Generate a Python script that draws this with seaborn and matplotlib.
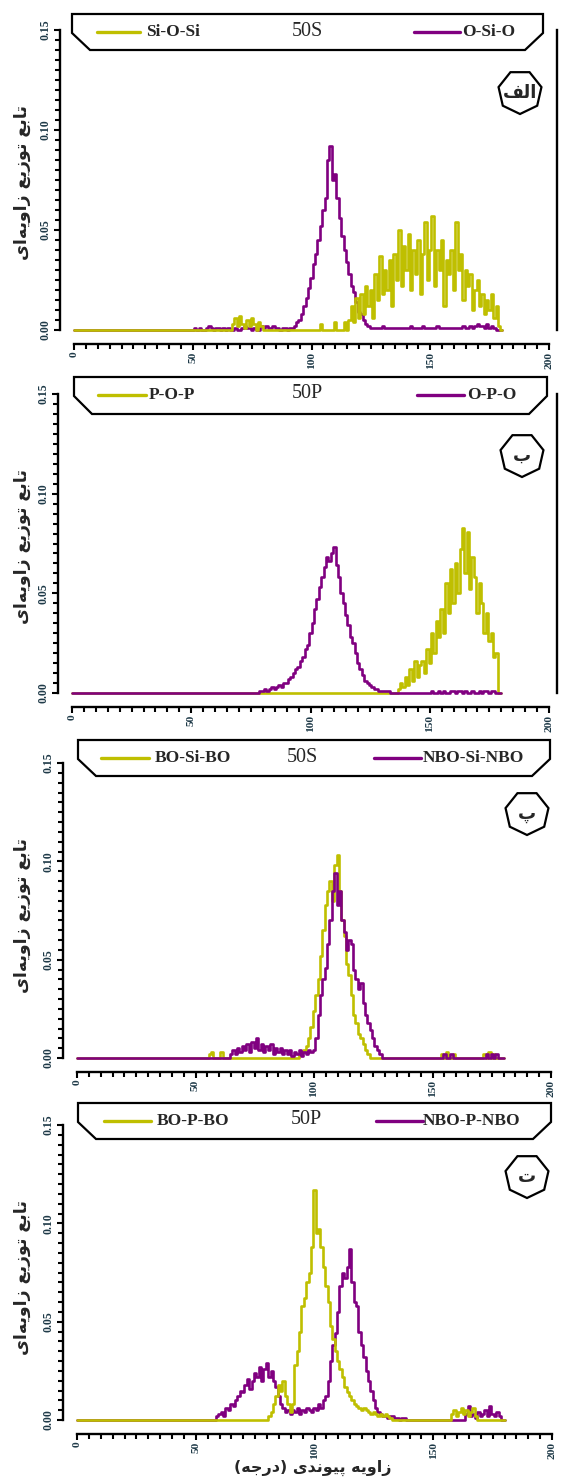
import numpy as np
import pandas as pd
import seaborn as sns
import matplotlib
matplotlib.use("Agg")
import matplotlib.pyplot as plt
from matplotlib.patches import Polygon, RegularPolygon
from matplotlib.lines import Line2D
from matplotlib.transforms import Affine2D
from matplotlib.ticker import MultipleLocator, FormatStrFormatter

# ---------------- data ----------------
angles = np.arange(0, 181)  # bond angle grid, degrees

# panel a (50S)
si_o_si_start = 66
si_o_si = [0.000, 0.003, 0.006, 0.002, 0.007, 0.003, 0.001, 0.005, 0.002, 0.006,
           0.003, 0.000, 0.004, 0.002, 0.000,
           0, 0, 0, 0, 0, 0, 0, 0, 0, 0,
           0, 0, 0, 0, 0, 0, 0, 0, 0, 0,
           0, 0, 0, 0.003, 0, 0, 0, 0, 0, 0.004,
           0, 0, 0, 0.004, 0, 0.005, 0.012, 0.004, 0.016, 0.006,
           0.018, 0.008, 0.022, 0.012, 0.020, 0.006, 0.028, 0.015, 0.037, 0.018,
           0.030, 0.020, 0.035, 0.012, 0.038, 0.025, 0.050, 0.022, 0.042, 0.030,
           0.048, 0.020, 0.040, 0.028, 0.045, 0.018, 0.038, 0.054, 0.025, 0.040,
           0.057, 0.022, 0.040, 0.030, 0.045, 0.012, 0.035, 0.028, 0.040, 0.020,
           0.054, 0.030, 0.038, 0.015, 0.030, 0.022, 0.028, 0.010, 0.020, 0.025,
           0.012, 0.018, 0.008, 0.015, 0.010, 0.018, 0.006, 0.012, 0.002, 0.000]
o_si_o_start = 50
o_si_o = [0.000, 0.001, 0.000, 0.001, 0.000, 0.000, 0.001, 0.002, 0.001, 0.000,
          0.001, 0.001, 0.000, 0.001, 0.000, 0.001, 0.000, 0.000, 0.001, 0.000,
          0.000, 0.001, 0.002, 0.001, 0.001, 0.000, 0.001, 0.000, 0.000, 0.002,
          0.001, 0.002, 0.001, 0.001, 0.002, 0.001, 0.001, 0.000, 0.001, 0.001,
          0.000, 0.001, 0.001, 0.002, 0.004, 0.005, 0.008, 0.012, 0.016, 0.021,
          0.026, 0.033, 0.038, 0.045, 0.052, 0.060, 0.066, 0.085, 0.092, 0.075,
          0.078, 0.066, 0.056, 0.047, 0.040, 0.034, 0.028, 0.022, 0.019, 0.014,
          0.009, 0.008, 0.005, 0.003, 0.002, 0.001, 0.001, 0.001, 0.001, 0.001,
          0.002, 0.001, 0.001, 0.001, 0.001, 0.001, 0.001, 0.001, 0.001, 0.001,
          0.001, 0.001, 0.002, 0.001, 0.001, 0.001, 0.001, 0.002, 0.001, 0.001,
          0.001, 0.001, 0.001, 0.002, 0.001, 0.001, 0.001, 0.001, 0.001, 0.001,
          0.001, 0.001, 0.001, 0.001, 0.002, 0.001, 0.001, 0.002, 0.001, 0.002,
          0.003, 0.002, 0.002, 0.001, 0.003, 0.001, 0.002, 0.001, 0.000, 0.000]

# panel b (50P)
p_o_p_start = 136
p_o_p = [0.000, 0.002, 0.005, 0.003,
         0.008, 0.004, 0.012, 0.006, 0.016, 0.008, 0.014, 0.016, 0.010, 0.022,
         0.015, 0.030, 0.020, 0.036, 0.028, 0.042, 0.030, 0.055, 0.040, 0.062,
         0.045, 0.065, 0.050, 0.072, 0.083, 0.060, 0.081, 0.052, 0.068, 0.058,
         0.040, 0.055, 0.045, 0.030, 0.040, 0.026, 0.030, 0.018, 0.020, 0.000]
o_p_o_start = 78
o_p_o = [0.000, 0.001, 0.001, 0.002, 0.001, 0.002, 0.003, 0.002, 0.003, 0.004, 0.003, 0.005,
         0.005, 0.007, 0.008, 0.010, 0.012, 0.013, 0.016, 0.018, 0.022, 0.024,
         0.030, 0.035, 0.042, 0.047, 0.053, 0.058, 0.063, 0.068, 0.066, 0.070,
         0.073, 0.064, 0.058, 0.050, 0.045, 0.039, 0.034, 0.028, 0.025, 0.020,
         0.015, 0.012, 0.009, 0.006, 0.005, 0.004, 0.003, 0.002, 0.002, 0.001,
         0.001, 0.001, 0.001, 0.001, 0.000, 0.000, 0.000, 0.000, 0.000, 0.000,
         0.000, 0.000, 0.000, 0.000, 0.000, 0.000, 0.000, 0.000, 0.000, 0.000,
         0.000, 0.001, 0.000, 0.000, 0.001, 0.000, 0.001, 0.000, 0.000, 0.001,
         0.001, 0.000, 0.001, 0.001, 0.000, 0.001, 0.000, 0.000, 0.001, 0.000,
         0.000, 0.001, 0.000, 0.001, 0.001, 0.000, 0.001, 0.001, 0.000, 0.000]

# panel c (50S)
bo_si_bo_start = 55
bo_si_bo = [0.000, 0.002, 0.003, 0.000, 0.000,
            0.000, 0.003, 0.000, 0.000, 0.000, 0.000, 0.000, 0.000, 0.000, 0.000,
            0, 0, 0, 0, 0, 0, 0, 0, 0, 0,
            0, 0, 0, 0, 0, 0, 0, 0, 0, 0,
            0.000, 0.000, 0.000, 0.000, 0.002, 0.003, 0.004, 0.006, 0.010, 0.016,
            0.024, 0.032, 0.040, 0.052, 0.065, 0.078, 0.085, 0.090, 0.080, 0.098,
            0.103, 0.085, 0.070, 0.062, 0.048, 0.042, 0.032, 0.022, 0.018, 0.012,
            0.010, 0.007, 0.004, 0.002, 0.000, 0, 0, 0, 0, 0,
            0, 0, 0, 0, 0, 0, 0, 0, 0, 0,
            0, 0, 0, 0, 0, 0, 0, 0, 0, 0,
            0, 0, 0, 0, 0.002, 0, 0.003, 0, 0, 0.002,
            0, 0, 0, 0, 0, 0, 0, 0, 0, 0,
            0, 0, 0.002, 0, 0.003, 0, 0.002, 0, 0, 0]
nbo_si_nbo_start = 64
nbo_si_nbo = [0.000, 0.002, 0.004, 0.002, 0.005, 0.003,
              0.006, 0.004, 0.007, 0.003, 0.008, 0.005, 0.010, 0.004, 0.007, 0.003,
              0.006, 0.004, 0.007, 0.002, 0.005, 0.003, 0.005, 0.002, 0.004, 0.002,
              0.004, 0.001, 0.003, 0.002, 0.004, 0.001, 0.003, 0.002, 0.004, 0.003,
              0.004, 0.010, 0.022, 0.032, 0.040, 0.046, 0.058, 0.070, 0.085, 0.094,
              0.078, 0.085, 0.070, 0.064, 0.055, 0.060, 0.058, 0.045, 0.040, 0.035,
              0.038, 0.028, 0.022, 0.018, 0.014, 0.010, 0.006, 0.004, 0.002, 0.000,
              0, 0, 0, 0, 0, 0, 0, 0, 0, 0,
              0, 0, 0, 0, 0, 0, 0, 0, 0, 0,
              0, 0, 0, 0, 0, 0.002, 0, 0, 0.002, 0,
              0, 0, 0, 0, 0, 0, 0, 0, 0, 0,
              0, 0, 0, 0.002, 0, 0.002, 0, 0.002, 0, 0]

# panel d (50P)
bo_p_bo_start = 80
bo_p_bo = [0.000, 0.002, 0.004, 0.008, 0.012, 0.018, 0.015, 0.020, 0.012, 0.008,
           0.004, 0.008, 0.028, 0.035, 0.045, 0.058, 0.062, 0.070, 0.075, 0.088,
           0.117, 0.095, 0.097, 0.088, 0.078, 0.068, 0.060, 0.048, 0.041, 0.035,
           0.030, 0.026, 0.022, 0.017, 0.014, 0.012, 0.010, 0.008, 0.007, 0.006,
           0.005, 0.006, 0.005, 0.004, 0.003, 0.004, 0.003, 0.002, 0.003, 0.002,
           0.003, 0.002, 0.001, 0.000, 0, 0, 0, 0, 0, 0,
           0, 0, 0, 0, 0, 0, 0, 0, 0, 0,
           0, 0, 0, 0, 0, 0, 0, 0, 0.003, 0.005,
           0.002, 0.004, 0.006, 0.003, 0.005, 0.002, 0.004, 0.006, 0.002, 0.000]
nbo_p_nbo_start = 58
nbo_p_nbo = [0.000, 0.002,
             0.003, 0.004, 0.002, 0.006, 0.005, 0.008, 0.007, 0.010, 0.012, 0.015,
             0.014, 0.018, 0.021, 0.016, 0.020, 0.024, 0.022, 0.027, 0.020, 0.026,
             0.029, 0.022, 0.025, 0.020, 0.017, 0.012, 0.008, 0.006, 0.004, 0.005,
             0.003, 0.005, 0.004, 0.006, 0.003, 0.005, 0.004, 0.006, 0.005, 0.004,
             0.006, 0.005, 0.008, 0.006, 0.010, 0.012, 0.020, 0.030, 0.038, 0.044,
             0.055, 0.068, 0.075, 0.072, 0.078, 0.087, 0.070, 0.060, 0.058, 0.045,
             0.038, 0.032, 0.025, 0.020, 0.015, 0.010, 0.006, 0.004, 0.003, 0.002,
             0.002, 0.001, 0.002, 0.002, 0.001, 0.001, 0.000, 0.001, 0.001, 0.000,
             0, 0, 0, 0, 0, 0, 0, 0, 0, 0,
             0, 0, 0, 0, 0, 0, 0, 0, 0, 0,
             0, 0, 0, 0, 0.003, 0.007, 0.002, 0.003, 0.001, 0.004,
             0.002, 0.003, 0.005, 0.002, 0.007, 0.003, 0.002, 0.004, 0.002, 0.000]

x_ticks = [0, 50, 100, 150, 200]
y_ticks = [0.00, 0.05, 0.10, 0.15]
ylabel_text = "تابع توزیع زاویه‌ای"
xlabel_text = "زاویه پیوندی (درجه)"

YELLOW = "#BFBF00"
PURPLE = "#800080"
TICKC = "#1f3a48"

# ---------------- simple Persian shaping (matplotlib has no complex text layout) ----
FORMS = {
    'ا': ('\uFE8D', '\uFE8E', None, None),
    'ب': ('\uFE8F', '\uFE90', '\uFE91', '\uFE92'),
    'پ': ('\uFB56', '\uFB57', '\uFB58', '\uFB59'),
    'ت': ('\uFE95', '\uFE96', '\uFE97', '\uFE98'),
    'ج': ('\uFE9D', '\uFE9E', '\uFE9F', '\uFEA0'),
    'د': ('\uFEA9', '\uFEAA', None, None),
    'ر': ('\uFEAD', '\uFEAE', None, None),
    'ز': ('\uFEAF', '\uFEB0', None, None),
    'ع': ('\uFEC9', '\uFECA', '\uFECB', '\uFECC'),
    'ف': ('\uFED1', '\uFED2', '\uFED3', '\uFED4'),
    'ل': ('\uFEDD', '\uFEDE', '\uFEDF', '\uFEE0'),
    'ن': ('\uFEE5', '\uFEE6', '\uFEE7', '\uFEE8'),
    'ه': ('\uFEE9', '\uFEEA', '\uFEEB', '\uFEEC'),
    'و': ('\uFEED', '\uFEEE', None, None),
    'ی': ('\uFBFC', '\uFBFD', '\uFBFE', '\uFBFF'),
}


def shape(text):
    out = []
    n = len(text)
    for i, ch in enumerate(text):
        if ch == '\u200c':
            continue
        if ch not in FORMS:
            out.append(ch)
            continue
        prev = text[i - 1] if i > 0 else ''
        nxt = text[i + 1] if i + 1 < n else ''
        jp = prev in FORMS and FORMS[prev][2] is not None
        jn = FORMS[ch][2] is not None and nxt in FORMS
        isol, fina, init, medi = FORMS[ch]
        out.append(medi if (jp and jn) else fina if jp else init if jn else isol)
    mirror = {'(': ')', ')': '('}
    return ''.join(mirror.get(c, c) for c in reversed(out))


def full(start, vals):
    y = np.zeros(len(angles))
    y[start:start + len(vals)] = vals
    return y


# ---------------- figure ----------------
W, H = 561, 1477
sns.set_theme(style="ticks")
plt.rcParams['font.family'] = ['Liberation Serif', 'DejaVu Sans']

fig = plt.figure(figsize=(W / 100, H / 100), dpi=100)
PX = Affine2D().scale(1, -1).translate(0, H).scale(1 / W, 1 / H) + fig.transFigure
FA = ['DejaVu Sans']

panels = [
    dict(geom=(74, 549, 30, 330), title="50S", badge="الف", right=True,
         series=[("O-Si-O", o_si_o_start, o_si_o, PURPLE), ("Si-O-Si", si_o_si_start, si_o_si, YELLOW)],
         leg=("Si-O-Si", "O-Si-O"), box=(72, 543, 14, 50), lx=(97, 140, 146, 307, 414, 460, 462),
         bc=(520, 92)),
    dict(geom=(72, 549, 394, 693), title="50P", badge="ب", right=True,
         series=[("P-O-P", p_o_p_start, p_o_p, YELLOW), ("O-P-O", o_p_o_start, o_p_o, PURPLE)],
         leg=("P-O-P", "O-P-O"), box=(74, 547, 377, 414), lx=(98, 146, 149, 307, 417, 464, 467),
         bc=(522, 455)),
    dict(geom=(77, 551, 763, 1058), title="50S", badge="پ", right=False,
         series=[("BO-Si-BO", bo_si_bo_start, bo_si_bo, YELLOW), ("NBO-Si-NBO", nbo_si_nbo_start, nbo_si_nbo, PURPLE)],
         leg=("BO-Si-BO", "NBO-Si-NBO"), box=(78, 550, 740, 776), lx=(101, 149, 155, 302, 374, 421, 423),
         bc=(527, 813)),
    dict(geom=(77, 552, 1125, 1420), title="50P", badge="ت", right=False,
         series=[("NBO-P-NBO", nbo_p_nbo_start, nbo_p_nbo, PURPLE), ("BO-P-BO", bo_p_bo_start, bo_p_bo, YELLOW)],
         leg=("BO-P-BO", "NBO-P-NBO"), box=(78, 551, 1103, 1139), lx=(104, 151, 157, 306, 376, 423, 423),
         bc=(527, 1176)),
]

for k, p in enumerate(panels):
    L, R, T, B = p['geom']
    ax = fig.add_axes([L / W, 1 - B / H, (R - L) / W, (B - T) / H])
    for name, start, vals, col in p['series']:
        df = pd.DataFrame({"angle": angles, "value": full(start, vals)})
        sns.lineplot(data=df, x="angle", y="value", color=col, lw=1.9,
                     errorbar=None, ax=ax, clip_on=False, drawstyle='steps-mid')
    ax.set_xlim(0, 200)
    ax.set_ylim(0, 0.15)
    ax.set_xticks(x_ticks)
    ax.set_yticks(y_ticks)
    ax.xaxis.set_minor_locator(MultipleLocator(5))
    ax.yaxis.set_minor_locator(MultipleLocator(0.005))
    ax.yaxis.set_major_formatter(FormatStrFormatter('%.2f'))
    ax.set_xlabel("")
    ax.set_ylabel("")
    ax.set_facecolor('none')
    sns.despine(ax=ax, offset=10, trim=True, right=not p['right'])
    if p['right']:
        ax.spines['right'].set_position(('outward', 6))
        ax.spines['right'].set_bounds(0, 0.15)
    for s in ax.spines.values():
        s.set_linewidth(1.7)
        s.set_color('black')
    ax.tick_params(which='both', direction='out', color='black', width=1.5,
                   right=False, top=False, left=True, bottom=True)
    ax.tick_params(which='major', length=4.5)
    ax.tick_params(which='minor', length=3.5)
    for lab in ax.get_yticklabels():
        lab.set_rotation(90)
        lab.set_va('center')
        lab.set_ha('right')
        lab.set_fontsize(8.5)
        lab.set_fontweight('bold')
        lab.set_color(TICKC)
    for lab in ax.get_xticklabels():
        lab.set_rotation(90)
        lab.set_va('top')
        lab.set_ha('center')
        lab.set_fontsize(8.2)
        lab.set_fontweight('bold')
        lab.set_color(TICKC)
    ax.tick_params(axis='y', pad=2)
    ax.tick_params(axis='x', pad=1)

    # legend-like header box
    bl, br, bt, bb = p['box']
    ch = 18
    poly = Polygon([(bl, bt), (br, bt), (br, bt + 19), (br - ch, bb), (bl + ch, bb), (bl, bt + 19)],
                   closed=True, fill=True, facecolor='white', edgecolor='black', lw=1.6,
                   transform=PX, zorder=5)
    fig.add_artist(poly)
    ly = bt + 18
    x1, x2, xl, xt, x3, x4, xl2 = p['lx']
    fig.add_artist(Line2D([x1, x2], [ly, ly], color=YELLOW, lw=2.4, transform=PX, zorder=6))
    fig.add_artist(Line2D([x3, x4], [ly, ly], color=PURPLE, lw=2.4, transform=PX, zorder=6))
    fig.text(xl, ly, p['leg'][0], transform=PX, ha='left', va='center', fontsize=12.5,
             fontweight='bold', zorder=7)
    fig.text(xl2, ly, p['leg'][1], transform=PX, ha='left', va='center', fontsize=12.5,
             fontweight='bold', zorder=7)
    fig.text(xt, ly - 1, p['title'], transform=PX, ha='center', va='center', fontsize=14.5, zorder=7)

    # heptagon badge
    cx, cy = p['bc']
    hept = RegularPolygon((cx, cy), numVertices=7, radius=22, orientation=0,
                          facecolor='white', edgecolor='black', lw=1.6, transform=PX, zorder=5)
    fig.add_artist(hept)
    fig.text(cx, cy + 1, shape(p['badge']), transform=PX, ha='center', va='center',
             fontsize=13, family=FA, fontweight='bold', zorder=7)

    # y label
    fig.text(22, T + 153, shape(ylabel_text), transform=PX, rotation=90, ha='center',
             va='center', fontsize=12.5, family=FA, fontweight='bold')

fig.text(313, 1476, shape(xlabel_text), transform=PX, ha='center', va='bottom',
         fontsize=11.5, family=FA, fontweight='bold')

fig.savefig("out.png", dpi=100)
